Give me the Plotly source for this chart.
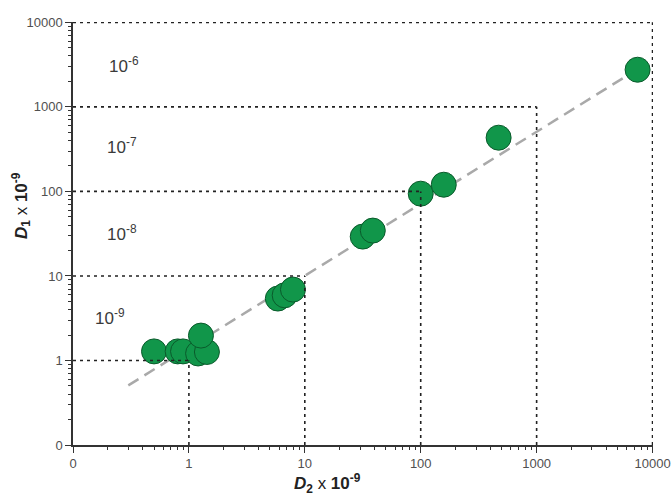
import math
import plotly.graph_objects as go

# Data
d2 = [0.50, 0.80, 0.89, 1.20, 1.43, 1.27, 5.85, 6.7, 7.9, 31.6, 38.6, 100, 158, 470, 7430]
d1 = [1.28, 1.28, 1.28, 1.21, 1.26, 1.97, 5.4, 5.9, 6.9, 29.2, 34.4, 94, 120, 432, 2750]

trend_x = [0.30, 7430]
trend_y = [0.507, 2800]

decades = [1, 10, 100, 1000, 10000]

region_labels = ["10<sup>-6</sup>", "10<sup>-7</sup>", "10<sup>-8</sup>", "10<sup>-9</sup>"]
region_x = [0.275, 0.264, 0.264, 0.208]
region_y = [3160, 348, 32.6, 3.3]

fig = go.Figure()

# nested dotted boxes
for d in decades:
    fig.add_shape(type="line", x0=0.1, x1=d, y0=d, y1=d, xref="x", yref="y",
                  line=dict(color="#222222", width=1.6, dash="3px,4px"))
    fig.add_shape(type="line", x0=d, x1=d, y0=0.1, y1=d, xref="x", yref="y",
                  line=dict(color="#222222", width=1.6, dash="3px,4px"))

fig.add_trace(go.Scatter(x=trend_x, y=trend_y, mode="lines",
                         line=dict(color="#a9a9a9", width=2.5, dash="12px,7px"),
                         hoverinfo="skip", showlegend=False))

fig.add_trace(go.Scatter(x=d2, y=d1, mode="markers",
                         marker=dict(size=25, color="#11964a",
                                     line=dict(color="#0a5a2b", width=1)),
                         showlegend=False, cliponaxis=False))

for t, x, y in zip(region_labels, region_x, region_y):
    fig.add_annotation(x=math.log10(x), y=math.log10(y), xref="x", yref="y", text=t,
                       showarrow=False,
                       font=dict(size=17, color="#3a3a3a", family="Arial, Liberation Sans"),
                       xanchor="center", yanchor="middle")

fig.add_annotation(x=0.438, y=-0.09, xref="paper", yref="paper",
                   text="<b><i>D</i><sub>2</sub></b> x <b>10<sup>-9</sup></b>",
                   showarrow=False, font=dict(size=17, color="#222222", family="Arial, Liberation Sans"),
                   xanchor="center", yanchor="middle")
fig.add_annotation(x=-0.09, y=0.567, xref="paper", yref="paper", textangle=-90,
                   text="<b><i>D</i><sub>1</sub></b> x <b>10<sup>-9</sup></b>",
                   showarrow=False, font=dict(size=17, color="#222222", family="Arial, Liberation Sans"),
                   xanchor="center", yanchor="middle")

axis_common = dict(type="log", tickmode="linear", tick0=0, dtick=1,
                   exponentformat="none", labelalias={"0.1": "0", "10,000": "10000"},
                   automargin=False,
                   showgrid=False, zeroline=False, showline=True, linecolor="#333333",
                   linewidth=1.5, ticks="outside", ticklen=6, tickcolor="#333333",
                   tickfont=dict(size=13, color="#505050", family="Arial, Liberation Sans"),
                   minor=dict(ticks="outside", ticklen=3, tickcolor="#333333", dtick="D1",
                              showgrid=False))

fig.update_xaxes(range=[-1, 4.004], **axis_common)
fig.update_yaxes(range=[-1, 4.004], **axis_common)

fig.update_layout(width=671, height=495, margin=dict(l=73, r=18, t=22, b=50),
                  plot_bgcolor="white", paper_bgcolor="white", showlegend=False)

fig.write_html("out.html", config={"displayModeBar": False},
               post_script="document.body.style.margin='0';")
